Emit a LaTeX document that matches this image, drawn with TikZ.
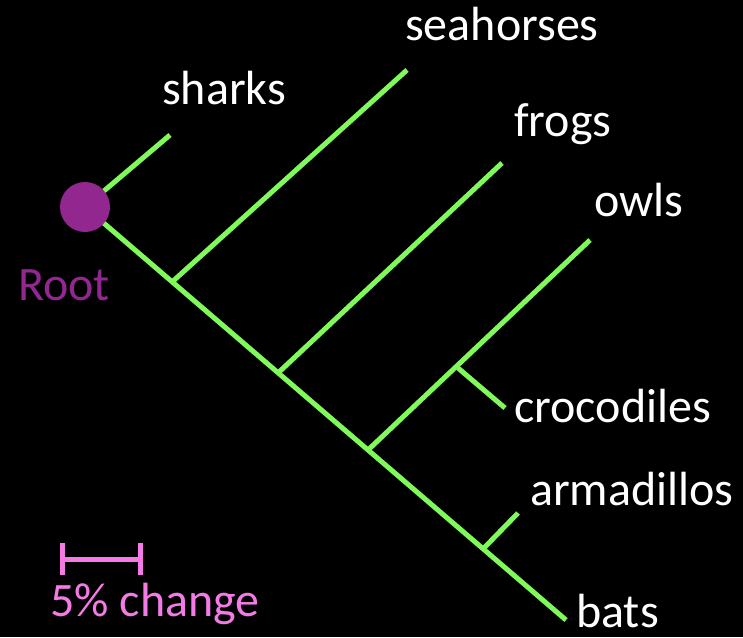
\documentclass[tikz,border=0pt]{standalone}
\usepackage{fontspec}
\setmainfont{Carlito}
\definecolor{branch}{RGB}{128,250,90}
\definecolor{rootc}{RGB}{146,39,143}
\definecolor{scalec}{RGB}{244,123,229}
\begin{document}
\begin{tikzpicture}[x=1pt,y=-1pt,
  br/.style={draw=branch,line width=5pt},
  lbl/.style={text=white,font=\fontsize{48}{56}\selectfont,inner sep=0pt,anchor=base west},
  sc/.style={draw=scalec,line width=5pt}]
\fill[black] (0,0) rectangle (743,637);
\useasboundingbox (0,0) rectangle (743,637);
% coordinates
\coordinate (root) at (85,207);
\coordinate (sharksend) at (170,135);
\coordinate (batsend) at (566,620);
\coordinate (j1) at (172,282);
\coordinate (seaend) at (407,70);
\coordinate (j2) at (278,373);
\coordinate (frogend) at (502,163);
\coordinate (j3) at (368,450);
\coordinate (owlend) at (590,240);
\coordinate (j4) at (458,368);
\coordinate (crocend) at (505,408);
\coordinate (j5) at (483,549);
\coordinate (armend) at (518,513);
\draw[br] (root) -- (sharksend);
\draw[br] (root) -- (batsend);
\draw[br] (j1) -- (seaend);
\draw[br] (j2) -- (frogend);
\draw[br] (j3) -- (owlend);
\draw[br] (j4) -- (crocend);
\draw[br] (j5) -- (armend);
\node[circle,fill=rootc,minimum size=50pt,inner sep=0pt] (rootdot) at (root) {};
% labels
\node[lbl] (seahorses) at (405,40) {seahorses};
\node[lbl] (sharks) at (162,104) {sharks};
\node[lbl] (frogs) at (514,136) {frogs};
\node[lbl] (owls) at (594,216) {owls};
\node[lbl] (crocodiles) at (514,422) {crocodiles};
\node[lbl] (armadillos) at (530,505) {armadillos};
\node[lbl] (bats) at (576,627) {bats};
\node[lbl,text=rootc] (rootlbl) at (18,300) {Root};
% scale bar
\coordinate (sl) at (62,559);
\coordinate (sr) at (140,559);
\draw[sc] (sl) -- (sr);
\draw[sc] ([yshift=-16pt]sl) -- ([yshift=16pt]sl);
\draw[sc] ([yshift=-16pt]sr) -- ([yshift=16pt]sr);
\node[lbl,text=scalec] (scalelbl) at (50,616) {5\% change};
\end{tikzpicture}
\end{document}
